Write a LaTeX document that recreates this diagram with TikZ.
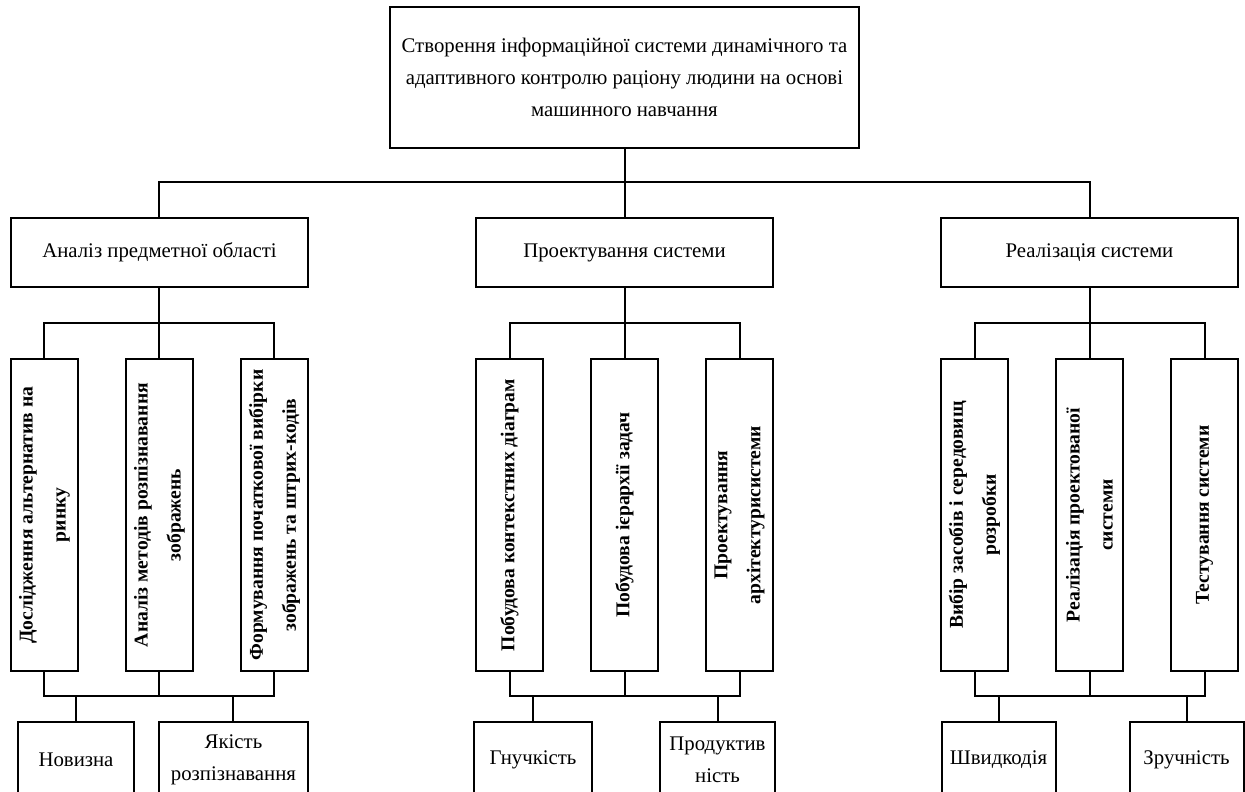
\documentclass[tikz,border=0pt]{standalone}
\usepackage{fontspec}
\setmainfont{Liberation Serif}
\tikzset{%
  % Specifications for style of nodes:
           base/.style = {rectangle, draw=black, line width=1pt,
                          text centered, align=center,
                          font=\fontsize{10.4}{16}\selectfont},
        goalbox/.style = {base, minimum width=234.5pt, minimum height=70.5pt},
       stagebox/.style = {base, minimum width=148.5pt, minimum height=34.5pt},
        taskbox/.style = {base, minimum width=156pt, minimum height=33.5pt,
                          inner xsep=1pt,
                          font=\bfseries\fontsize{9.8}{16.5}\selectfont},
        leafbox/.style = {base, minimum height=38pt}
}

\begin{document}
\begin{tikzpicture}[every node/.style={node distance=87.5pt}, line width=1pt]
  \useasboundingbox (-312.25pt,38.75pt) rectangle (310.25pt,-356.75pt);

  \node (goal) [goalbox] {Створення інформаційної системи динамічного та\\
                          адаптивного контролю раціону людини на основі\\
                          машинного навчання};

  \node (anal) [stagebox, below of=goal, xshift=-232.5pt] {Аналіз предметної області};
  \node (proj) [stagebox, below of=goal]                  {Проектування системи};
  \node (real) [stagebox, below of=goal, xshift=232.5pt]  {Реалізація системи};

  % vertical task boxes
  \node (a1) [taskbox, below of=anal, yshift=-43.75pt, xshift=-57.5pt, rotate=90] {Дослідження альтернатив на\\ ринку};
  \node (a2) [taskbox, below of=anal, yshift=-43.75pt, rotate=90]                 {Аналіз методів розпізнавання\\ зображень};
  \node (a3) [taskbox, below of=anal, yshift=-43.75pt, xshift=57.5pt, rotate=90]  {Формування початкової вибірки\\ зображень та штрих-кодів};

  \node (p1) [taskbox, below of=proj, yshift=-43.75pt, xshift=-57.5pt, rotate=90] {Побудова контекстних діаграм};
  \node (p2) [taskbox, below of=proj, yshift=-43.75pt, rotate=90]                 {Побудова ієрархії задач};
  \node (p3) [taskbox, below of=proj, yshift=-43.75pt, xshift=57.5pt, rotate=90]  {Проектування\\ архітектурисистеми};

  \node (r1) [taskbox, below of=real, yshift=-43.75pt, xshift=-57.5pt, rotate=90] {Вибір засобів і середовищ\\ розробки};
  \node (r2) [taskbox, below of=real, yshift=-43.75pt, rotate=90]                 {Реалізація проектованої\\ системи};
  \node (r3) [taskbox, below of=real, yshift=-43.75pt, xshift=57.5pt, rotate=90]  {Тестування системи};

  % criteria at the bottom
  \node (nov)  [leafbox, minimum width=58pt,   below of=a2, yshift=-35pt, xshift=-41.75pt] {Новизна};
  \node (qual) [leafbox, minimum width=74.5pt, below of=a2, yshift=-35pt, xshift=37pt]     {Якість\\ розпізнавання};
  \node (flex) [leafbox, minimum width=59pt,   below of=p2, yshift=-35pt, xshift=-45.75pt] {Гнучкість};
  \node (perf) [leafbox, minimum width=57.5pt, below of=p2, yshift=-35pt, xshift=46.5pt]   {Продуктив\\ ність};
  \node (fast) [leafbox, minimum width=57pt,   below of=r2, yshift=-35pt, xshift=-45.5pt]  {Швидкодія};
  \node (easy) [leafbox, minimum width=57pt,   below of=r2, yshift=-35pt, xshift=48.5pt]   {Зручність};

  \coordinate (gbus) at ([yshift=-16.5pt]goal.south);
  \coordinate (abus) at ([yshift=-17.5pt]anal.south);
  \coordinate (pbus) at ([yshift=-17.5pt]proj.south);
  \coordinate (rbus) at ([yshift=-17.5pt]real.south);
  \coordinate (alow) at ([yshift=-12pt]a2.west);
  \coordinate (plow) at ([yshift=-12pt]p2.west);
  \coordinate (rlow) at ([yshift=-12pt]r2.west);

    \draw (goal) -- (proj);
    \draw (anal.north) |- (gbus) -| (real.north);

    \draw (anal) -- (a2.east);
    \draw (a1.east) |- (abus) -| (a3.east);
    \draw (proj) -- (p2.east);
    \draw (p1.east) |- (pbus) -| (p3.east);
    \draw (real) -- (r2.east);
    \draw (r1.east) |- (rbus) -| (r3.east);

    \draw (a1.west) |- (alow) -| (a3.west);
    \draw (a2.west) -- (alow);
    \draw (p1.west) |- (plow) -| (p3.west);
    \draw (p2.west) -- (plow);
    \draw (r1.west) |- (rlow) -| (r3.west);
    \draw (r2.west) -- (rlow);

    \draw (alow -| nov) -- (nov);
    \draw (alow -| qual) -- (qual);
    \draw (plow -| flex) -- (flex);
    \draw (plow -| perf) -- (perf);
    \draw (rlow -| fast) -- (fast);
    \draw (rlow -| easy) -- (easy);
\end{tikzpicture}
\end{document}
